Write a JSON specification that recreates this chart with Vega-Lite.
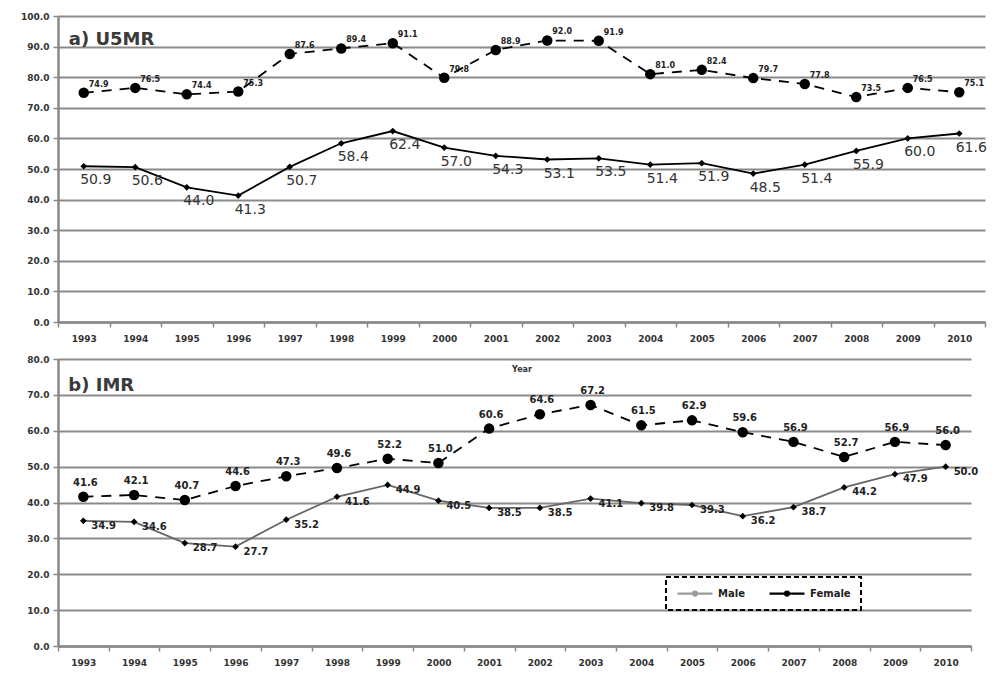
{
  "$schema": "https://vega.github.io/schema/vega-lite/v6.json",
  "background": "white",
  "padding": {"left": 20, "top": 12, "right": 5, "bottom": 5},
  "bounds": "flush",
  "spacing": 37,
  "resolve": {"scale": {"color": "independent"}, "legend": {"color": "independent"}},
  "datasets": {
    "usmr": [
      {"year":"1993","sex":"Female","v":74.9},{"year":"1994","sex":"Female","v":76.5},{"year":"1995","sex":"Female","v":74.4},{"year":"1996","sex":"Female","v":75.3},{"year":"1997","sex":"Female","v":87.6},{"year":"1998","sex":"Female","v":89.4},{"year":"1999","sex":"Female","v":91.1},{"year":"2000","sex":"Female","v":79.8},{"year":"2001","sex":"Female","v":88.9},{"year":"2002","sex":"Female","v":92.0},{"year":"2003","sex":"Female","v":91.9},{"year":"2004","sex":"Female","v":81.0},{"year":"2005","sex":"Female","v":82.4},{"year":"2006","sex":"Female","v":79.7},{"year":"2007","sex":"Female","v":77.8},{"year":"2008","sex":"Female","v":73.5},{"year":"2009","sex":"Female","v":76.5},{"year":"2010","sex":"Female","v":75.1},
      {"year":"1993","sex":"Male","v":50.9},{"year":"1994","sex":"Male","v":50.6},{"year":"1995","sex":"Male","v":44.0},{"year":"1996","sex":"Male","v":41.3},{"year":"1997","sex":"Male","v":50.7},{"year":"1998","sex":"Male","v":58.4},{"year":"1999","sex":"Male","v":62.4},{"year":"2000","sex":"Male","v":57.0},{"year":"2001","sex":"Male","v":54.3},{"year":"2002","sex":"Male","v":53.1},{"year":"2003","sex":"Male","v":53.5},{"year":"2004","sex":"Male","v":51.4},{"year":"2005","sex":"Male","v":51.9},{"year":"2006","sex":"Male","v":48.5},{"year":"2007","sex":"Male","v":51.4},{"year":"2008","sex":"Male","v":55.9},{"year":"2009","sex":"Male","v":60.0},{"year":"2010","sex":"Male","v":61.6}
    ],
    "imr": [
      {"year":"1993","sex":"Female","v":41.6},{"year":"1994","sex":"Female","v":42.1},{"year":"1995","sex":"Female","v":40.7},{"year":"1996","sex":"Female","v":44.6},{"year":"1997","sex":"Female","v":47.3},{"year":"1998","sex":"Female","v":49.6},{"year":"1999","sex":"Female","v":52.2},{"year":"2000","sex":"Female","v":51.0},{"year":"2001","sex":"Female","v":60.6},{"year":"2002","sex":"Female","v":64.6},{"year":"2003","sex":"Female","v":67.2},{"year":"2004","sex":"Female","v":61.5},{"year":"2005","sex":"Female","v":62.9},{"year":"2006","sex":"Female","v":59.6},{"year":"2007","sex":"Female","v":56.9},{"year":"2008","sex":"Female","v":52.7},{"year":"2009","sex":"Female","v":56.9},{"year":"2010","sex":"Female","v":56.0},
      {"year":"1993","sex":"Male","v":34.9},{"year":"1994","sex":"Male","v":34.6},{"year":"1995","sex":"Male","v":28.7},{"year":"1996","sex":"Male","v":27.7},{"year":"1997","sex":"Male","v":35.2},{"year":"1998","sex":"Male","v":41.6},{"year":"1999","sex":"Male","v":44.9},{"year":"2000","sex":"Male","v":40.5},{"year":"2001","sex":"Male","v":38.5},{"year":"2002","sex":"Male","v":38.5},{"year":"2003","sex":"Male","v":41.1},{"year":"2004","sex":"Male","v":39.8},{"year":"2005","sex":"Male","v":39.3},{"year":"2006","sex":"Male","v":36.2},{"year":"2007","sex":"Male","v":38.7},{"year":"2008","sex":"Male","v":44.2},{"year":"2009","sex":"Male","v":47.9},{"year":"2010","sex":"Male","v":50.0}
    ]
  },
  "config": {
    "view": {"stroke": null},
    "legend": {"strokeDash": [5, 3], "strokeWidth": 2},
    "axis": {
      "domainColor": "#888", "domainWidth": 2.5, "tickColor": "#888", "tickWidth": 1.5, "tickSize": 5,
      "labelFont": "DejaVu Sans", "labelFontWeight": "bold", "labelFontSize": 9, "labelColor": "#333",
      "gridColor": "#8a8a8a", "gridWidth": 1.8, "titleFont": "DejaVu Sans"
    }
  },
  "vconcat": [
    {
      "width": 927, "height": 306,
      "data": {"name": "usmr"},
      "encoding": {
        "x": {"field": "year", "type": "ordinal", "bandPosition": 0.5,
              "scale": {"type": "band", "paddingInner": 0, "paddingOuter": 0},
              "axis": {"tickBand": "extent", "labelAngle": 0, "grid": false, "labelPadding": 7, "title": "Year", "titleFontSize": 8, "titleFontWeight": "bold", "titleColor": "#333", "titlePadding": 22}},
        "y": {"field": "v", "type": "quantitative",
              "scale": {"domain": [0, 100], "nice": false},
              "axis": {"values": [0,10,20,30,40,50,60,70,80,90,100], "format": ".1f", "grid": true, "title": null, "labelPadding": 4}}
      },
      "layer": [
        {"transform": [{"filter": "datum.sex === 'Male'"}],
         "mark": {"type": "line", "color": "#000", "strokeWidth": 1.8}},
        {"transform": [{"filter": "datum.sex === 'Female'"}],
         "mark": {"type": "line", "color": "#000", "strokeWidth": 1.8, "strokeDash": [10, 8]}},
        {"mark": {"type": "point", "filled": true, "opacity": 1, "color": "#000"},
         "encoding": {
           "shape": {"condition": {"test": "datum.sex === 'Male'", "value": "diamond"}, "value": "circle"},
           "size": {"condition": {"test": "datum.sex === 'Male'", "value": 45}, "value": 110}}},
        {"transform": [{"filter": "datum.sex === 'Female'"}],
         "mark": {"type": "text", "align": "left", "baseline": "middle", "dx": 5, "dy": -8, "font": "DejaVu Sans", "fontSize": 8, "fontWeight": "bold", "color": "#222"},
         "encoding": {"text": {"field": "v", "type": "quantitative", "format": ".1f"}}},
        {"transform": [{"filter": "datum.sex === 'Male'"}],
         "mark": {"type": "text", "align": "center", "baseline": "middle", "dx": 12, "dy": 14, "font": "DejaVu Sans", "fontSize": 14, "color": "#333"},
         "encoding": {"text": {"field": "v", "type": "quantitative", "format": ".1f"}}},
        {"transform": [{"filter": "datum.sex === 'Female' && datum.year === '1993'"}],
         "mark": {"type": "text", "align": "left", "baseline": "alphabetic", "dx": -15, "dy": -2, "font": "DejaVu Sans", "fontSize": 18, "fontWeight": "bold", "color": "#3a3a3a"},
         "encoding": {"y": {"datum": 90}, "text": {"value": "a) U5MR"}}}
      ]
    },
    {
      "width": 913, "height": 287,
      "data": {"name": "imr"},
      "encoding": {
        "x": {"field": "year", "type": "ordinal", "bandPosition": 0.5,
              "scale": {"type": "band", "paddingInner": 0, "paddingOuter": 0},
              "axis": {"tickBand": "extent", "labelAngle": 0, "grid": false, "labelPadding": 7, "title": null}},
        "y": {"field": "v", "type": "quantitative",
              "scale": {"domain": [0, 80], "nice": false},
              "axis": {"values": [0,10,20,30,40,50,60,70,80], "format": ".1f", "grid": true, "title": null, "labelPadding": 4}}
      },
      "layer": [
        {"transform": [{"filter": "datum.sex === 'Female'"}],
         "mark": {"type": "line", "color": "#000", "strokeWidth": 1.8, "strokeDash": [10, 8]}},
        {"transform": [{"filter": "datum.sex === 'Male'"}],
         "mark": {"type": "line", "color": "#666", "strokeWidth": 1.8}},
        {"mark": {"type": "point", "filled": true, "opacity": 1, "color": "#000"},
         "encoding": {
           "shape": {"condition": {"test": "datum.sex === 'Male'", "value": "diamond"}, "value": "circle"},
           "size": {"condition": {"test": "datum.sex === 'Male'", "value": 45}, "value": 110}}},
        {"mark": {"type": "point", "filled": false, "opacity": 0},
         "encoding": {
           "color": {"field": "sex", "scale": {"domain": ["Male", "Female"], "range": ["#9a9a9a", "#000"]},
             "legend": {"orient": "none", "legendX": 608, "legendY": 218, "direction": "horizontal", "title": null,
               "padding": 10, "symbolSize": 100, "symbolStrokeWidth": 2.2, "symbolOpacity": 1,
               "symbolType": "M-1,0L6,0M2.5,-0.4A0.4,0.4 0 1 0 2.5,0.4A0.4,0.4 0 1 0 2.5,-0.4Z",
               "columnPadding": 20, "labelOffset": 29,
               "strokeColor": "#000",
               "labelFont": "DejaVu Sans", "labelFontSize": 10, "labelFontWeight": "bold", "labelColor": "#222"}}}},
        {"transform": [{"filter": "datum.sex === 'Female'"}],
         "mark": {"type": "text", "align": "center", "baseline": "middle", "dx": 2, "dy": -14, "font": "DejaVu Sans", "fontSize": 10, "fontWeight": "bold", "color": "#222"},
         "encoding": {"text": {"field": "v", "type": "quantitative", "format": ".1f"}}},
        {"transform": [{"filter": "datum.sex === 'Male'"}],
         "mark": {"type": "text", "align": "left", "baseline": "middle", "dx": 8, "dy": 5, "font": "DejaVu Sans", "fontSize": 10, "fontWeight": "bold", "color": "#222"},
         "encoding": {"text": {"field": "v", "type": "quantitative", "format": ".1f"}}},
        {"transform": [{"filter": "datum.sex === 'Female' && datum.year === '1993'"}],
         "mark": {"type": "text", "align": "left", "baseline": "alphabetic", "dx": -15, "font": "DejaVu Sans", "fontSize": 18, "fontWeight": "bold", "color": "#3a3a3a"},
         "encoding": {"y": {"datum": 71}, "text": {"value": "b) IMR"}}}
      ]
    }
  ]
}
